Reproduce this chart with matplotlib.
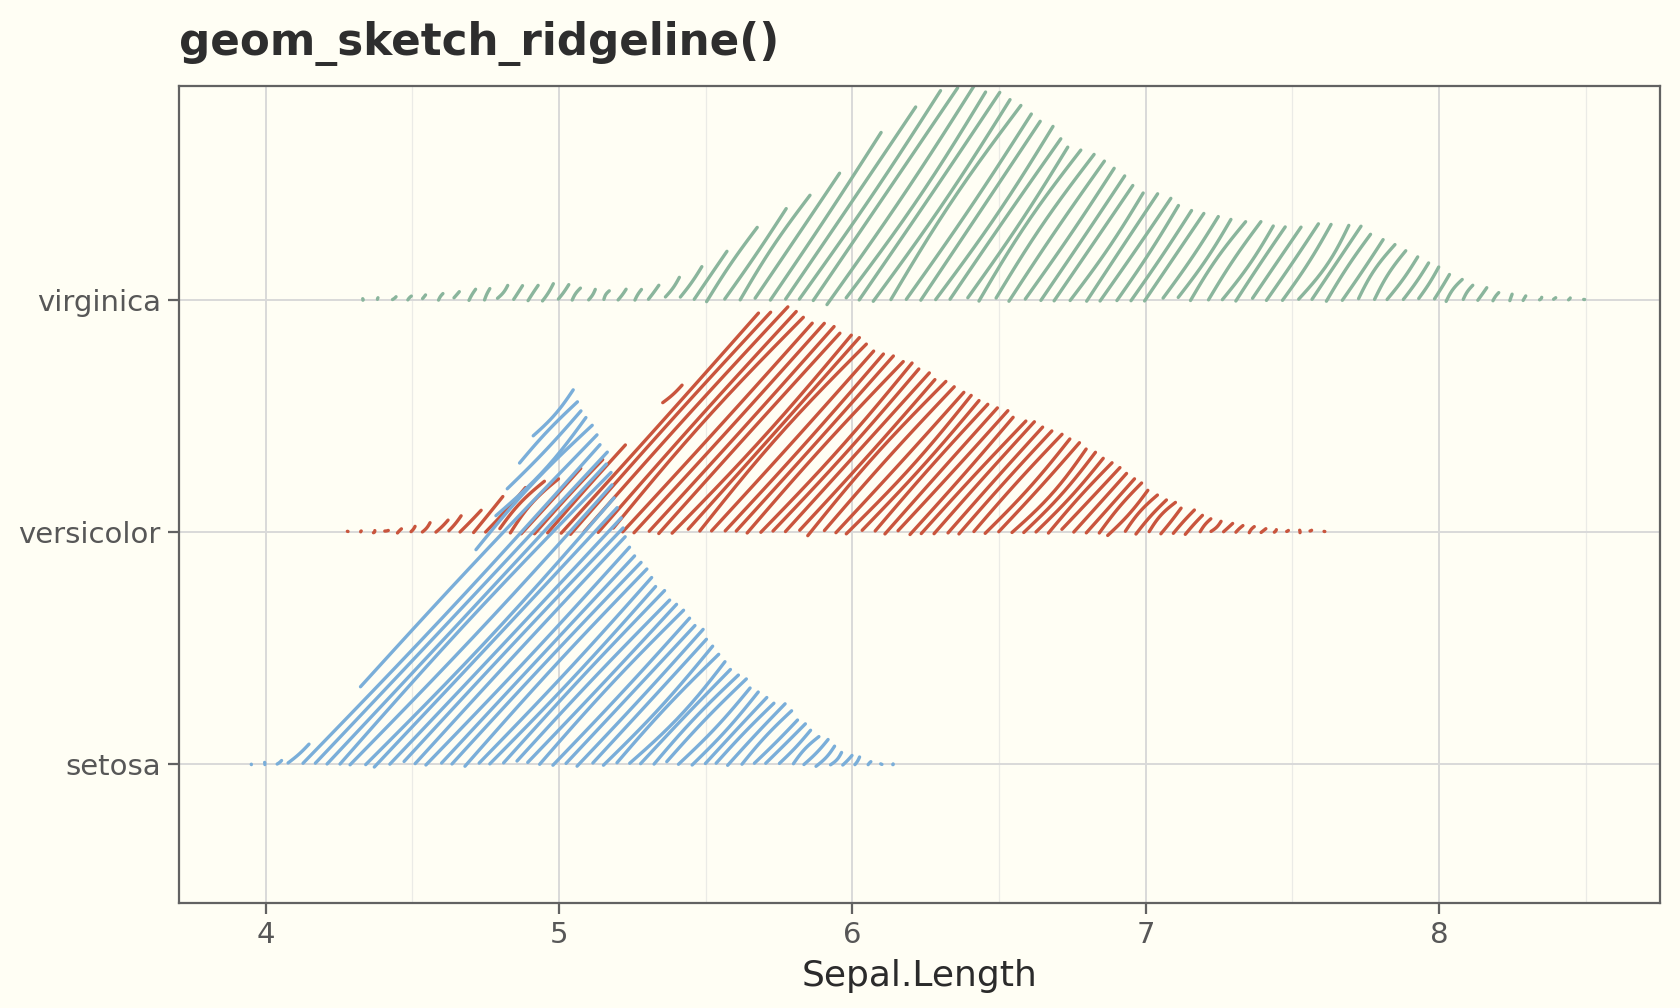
import numpy as np
import matplotlib.pyplot as plt
from matplotlib.collections import LineCollection

# ridge outlines: x = Sepal.Length, h = ridge height (1 = one row)
species = ['setosa', 'versicolor', 'virginica']

setosa_x = [3.95, 4.0, 4.05, 4.1, 4.15, 4.21, 4.27, 4.33, 4.4, 4.5, 4.6, 4.7, 4.77, 4.81, 4.85,
            4.88, 4.92, 4.96, 5.0, 5.04, 5.07, 5.1, 5.13, 5.15, 5.18, 5.2, 5.23, 5.25, 5.3, 5.35,
            5.4, 5.45, 5.5, 5.55, 5.6, 5.65, 5.7, 5.75, 5.8, 5.85, 5.9, 5.95, 6.0, 6.05, 6.1, 6.16]
setosa_h = [0.0, 0.005, 0.02, 0.05, 0.09, 0.14, 0.24, 0.34, 0.44, 0.58, 0.73, 0.88, 1.02, 1.14, 1.25,
            1.34, 1.44, 1.53, 1.58, 1.60, 1.56, 1.50, 1.43, 1.35, 1.25, 1.11, 0.98, 0.91, 0.84, 0.76,
            0.70, 0.62, 0.56, 0.46, 0.38, 0.34, 0.29, 0.26, 0.21, 0.155, 0.12, 0.065, 0.035, 0.015, 0.004, 0.0]

versicolor_x = [4.27, 4.35, 4.42, 4.48, 4.53, 4.6, 4.67, 4.75, 4.85, 4.94, 5.02, 5.1, 5.2, 5.28, 5.38,
                5.5, 5.6, 5.665, 5.72, 5.785, 5.81, 5.84, 5.88, 5.92, 5.96, 6.03, 6.08, 6.14, 6.19, 6.24,
                6.27, 6.33, 6.38, 6.42, 6.46, 6.52, 6.56, 6.6, 6.63, 6.67, 6.71, 6.74, 6.77, 6.8, 6.83,
                6.86, 6.9, 6.93, 6.96, 6.99, 7.01, 7.05, 7.08, 7.11, 7.15, 7.18, 7.22, 7.25, 7.29, 7.34,
                7.38, 7.42, 7.47, 7.52, 7.57, 7.63]
versicolor_h = [0.0, 0.005, 0.01, 0.02, 0.027, 0.045, 0.066, 0.10, 0.178, 0.213, 0.244, 0.29, 0.345, 0.43, 0.59,
                0.74, 0.86, 0.94, 0.945, 0.96, 0.935, 0.92, 0.905, 0.895, 0.86, 0.83, 0.78, 0.76, 0.73, 0.69,
                0.655, 0.64, 0.61, 0.575, 0.55, 0.515, 0.49, 0.48, 0.455, 0.435, 0.425, 0.405, 0.39, 0.36, 0.34,
                0.315, 0.29, 0.262, 0.25, 0.218, 0.185, 0.165, 0.14, 0.12, 0.10, 0.082, 0.07, 0.052, 0.04, 0.027,
                0.02, 0.013, 0.01, 0.006, 0.004, 0.0]

virginica_x = [4.3, 4.36, 4.42, 4.48, 4.55, 4.62, 4.69, 4.76, 4.82, 4.89, 4.95, 5.0, 5.06, 5.12, 5.17,
               5.24, 5.31, 5.4, 5.53, 5.72, 5.9, 6.08, 6.27, 6.34, 6.4, 6.49, 6.52, 6.6, 6.64, 6.7,
               6.72, 6.76, 6.81, 6.87, 6.92, 6.95, 6.99, 7.04, 7.12, 7.17, 7.22, 7.27, 7.32, 7.37, 7.42,
               7.47, 7.53, 7.61, 7.65, 7.73, 7.76, 7.8, 7.85, 7.89, 7.92, 7.97, 8.01, 8.05, 8.08, 8.13,
               8.18, 8.22, 8.28, 8.33, 8.4, 8.46, 8.52]
virginica_h = [0.0, 0.004, 0.01, 0.02, 0.02, 0.03, 0.045, 0.05, 0.058, 0.06, 0.06, 0.06, 0.052, 0.048, 0.04,
               0.04, 0.05, 0.09, 0.17, 0.345, 0.485, 0.69, 0.886, 0.908, 0.915, 0.905, 0.875, 0.812, 0.783, 0.731,
               0.69, 0.645, 0.628, 0.578, 0.535, 0.502, 0.463, 0.45, 0.406, 0.381, 0.363, 0.355, 0.336, 0.338, 0.322,
               0.316, 0.318, 0.325, 0.315, 0.325, 0.29, 0.259, 0.24, 0.212, 0.179, 0.155, 0.126, 0.097, 0.086, 0.062,
               0.04, 0.03, 0.019, 0.015, 0.009, 0.005, 0.0]

x_ticks = [4, 5, 6, 7, 8]

# styling
bg = '#FFFEF4'
colors = {'setosa': '#7AAED9', 'versicolor': '#C9553D', 'virginica': '#8AB59C'}
hatch_angle = {'setosa': 47, 'versicolor': 48, 'virginica': 56}   # degrees, in pixels
hatch_gap = {'setosa': 9.2, 'versicolor': 9.3, 'virginica': 12.5}  # pixels between strokes

fig = plt.figure(figsize=(8.4, 5.04), dpi=200, facecolor=bg)
ax = fig.add_axes([179 / 1680, 1 - 903 / 1008, (1660 - 179) / 1680, (903 - 86) / 1008])
ax.set_facecolor(bg)
ax.set_xlim(3.704, 8.754)
ax.set_ylim(0.403, 3.919)

# grid
for xv in np.arange(4.5, 8.6, 1.0):
    ax.axvline(xv, color='#EBEBE6', lw=0.45, zorder=0)
for xv in x_ticks:
    ax.axvline(xv, color='#D9D9D9', lw=0.7, zorder=0)
for yv in [1, 2, 3]:
    ax.axhline(yv, color='#D9D9D9', lw=0.7, zorder=0)

rng = np.random.default_rng(7)


def hatch(px, py, angle, gap):
    P = np.column_stack([px, py])
    th = np.radians(angle)
    u = np.array([np.cos(th), np.sin(th)])
    n = np.array([-np.sin(th), np.cos(th)])
    a_pts = P
    b_pts = np.roll(P, -1, axis=0)
    sa = a_pts @ n
    sb = b_pts @ n
    segs = []
    for c in np.arange(sa.min() + gap * 0.5, sa.max(), gap):
        cross = (sa - c) * (sb - c) < 0
        if not cross.any():
            continue
        w = (c - sa[cross]) / (sb[cross] - sa[cross])
        pts = a_pts[cross] + w[:, None] * (b_pts[cross] - a_pts[cross])
        pts = pts[np.argsort(pts @ u)]
        for i in range(0, len(pts) - 1, 2):
            segs.append((pts[i], pts[i + 1]))
    return segs, u, n


def sketch(p0, p1, u, n):
    L = np.linalg.norm(p1 - p0)
    j = min(3.0, 0.1 * L + 0.4)
    a = p0 + u * rng.normal(0, j * 0.6) + n * rng.normal(0, 0.7)
    b = p1 + u * rng.normal(0, j * 0.6) + n * rng.normal(0, 0.7)
    k = np.linspace(0, 1, 14)
    bow = rng.normal(0, min(2.0, 0.025 * L + 0.2))
    return a[None, :] + k[:, None] * (b - a)[None, :] + (np.sin(np.pi * k) * bow)[:, None] * n[None, :]


ridges = {
    'setosa': (setosa_x, setosa_h),
    'versicolor': (versicolor_x, versicolor_h),
    'virginica': (virginica_x, virginica_h),
}
to_px = ax.transData
to_data = ax.transData.inverted()

for base, name in reversed(list(enumerate(species, start=1))):
    xs, hs = ridges[name]
    pts = to_px.transform(np.column_stack([xs, base + np.array(hs)]))
    segs, u, n = hatch(pts[:, 0], pts[:, 1], hatch_angle[name], hatch_gap[name])
    lines = [to_data.transform(sketch(p0, p1, u, n)) for p0, p1 in segs]
    ax.add_collection(LineCollection(lines, colors=colors[name], linewidths=1.2,
                                     capstyle='round', joinstyle='round', zorder=2))

# axes
for sp in ax.spines.values():
    sp.set_color('#626262')
    sp.set_linewidth(0.8)
ax.set_xticks(x_ticks)
ax.set_xticklabels([str(v) for v in x_ticks])
ax.set_yticks([1, 2, 3])
ax.set_yticklabels(species)
ax.tick_params(axis='both', length=4, width=0.8, color='#626262', labelcolor='#575757',
               labelsize=10.5, pad=2.5)
ax.set_xlabel('Sepal.Length', fontsize=13, color='#2B2B2B', labelpad=3.5)

fig.text(179 / 1680, 1 - 44 / 1008, 'geom_sketch_ridgeline()', fontsize=15.7,
         fontweight='bold', color='#2E2E2E', ha='left', va='center')

fig.savefig('out.png', dpi=200, facecolor=bg)
